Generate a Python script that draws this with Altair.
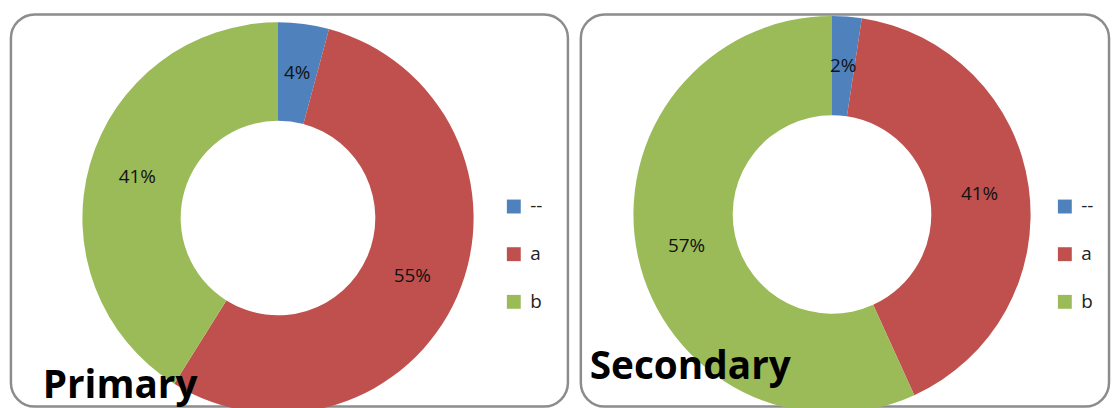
import altair as alt
import pandas as pd

categories = ["--", "a", "b"]
primary_share = [0.042, 0.547, 0.411]
secondary_share = [0.024, 0.408, 0.568]
panel_titles = ["Primary", "Secondary"]
colors = ["#4F81BD", "#C0504D", "#9BBB59"]


def panel(shares, title, w, h, cx, cy, r_out, r_in, legend_x, title_x, title_y):
    df = pd.DataFrame({"cat": categories, "share": shares,
                       "idx": list(range(len(categories)))})
    base = alt.Chart(df).encode(
        theta=alt.Theta("share:Q", stack=True),
        order=alt.Order("idx:Q"),
    )
    color = alt.Color(
        "cat:N",
        scale=alt.Scale(domain=categories, range=colors),
        legend=alt.Legend(
            orient="none", legendX=legend_x, legendY=184, title=None,
            symbolType="square", symbolSize=196, symbolStrokeWidth=0,
            labelFontSize=19, labelFont="Open Sans", labelColor="#222",
            rowPadding=28, labelOffset=7, padding=0,
        ),
    )
    arcs = base.mark_arc(radius=r_out, innerRadius=r_in, x=cx, y=cy).encode(color=color)
    labels = base.mark_text(
        radius=(r_out + r_in) / 2, x=cx, y=cy, font="Open Sans",
        fontSize=19, color="#111",
    ).encode(text=alt.Text("share:Q", format=".0%"))
    ttl = alt.Chart(pd.DataFrame({"t": [title]})).mark_text(
        align="left", baseline="alphabetic", font="Open Sans",
        fontWeight="bold", fontSize=39, color="#000",
    ).encode(text="t:N", x=alt.value(title_x), y=alt.value(title_y))
    return alt.layer(arcs, labels, ttl).properties(width=w, height=h)


p1 = panel(primary_share, panel_titles[0], 561, 395, 269, 205, 197, 98, 497, 32, 386)
p2 = panel(secondary_share, panel_titles[1], 532, 395, 253, 201.5, 200, 100, 478, 9, 367)

chart = (
    alt.hconcat(p1, p2, spacing=9)
    .resolve_scale(color="independent", theta="independent")
    .properties(padding={"left": 9, "top": 11, "right": 1, "bottom": 2}, background="white")
    .configure_view(stroke="#8c8c8c", strokeWidth=2.5, cornerRadius=24)
)

chart.save("out.html", embed_options={"renderer": "svg", "actions": False})
